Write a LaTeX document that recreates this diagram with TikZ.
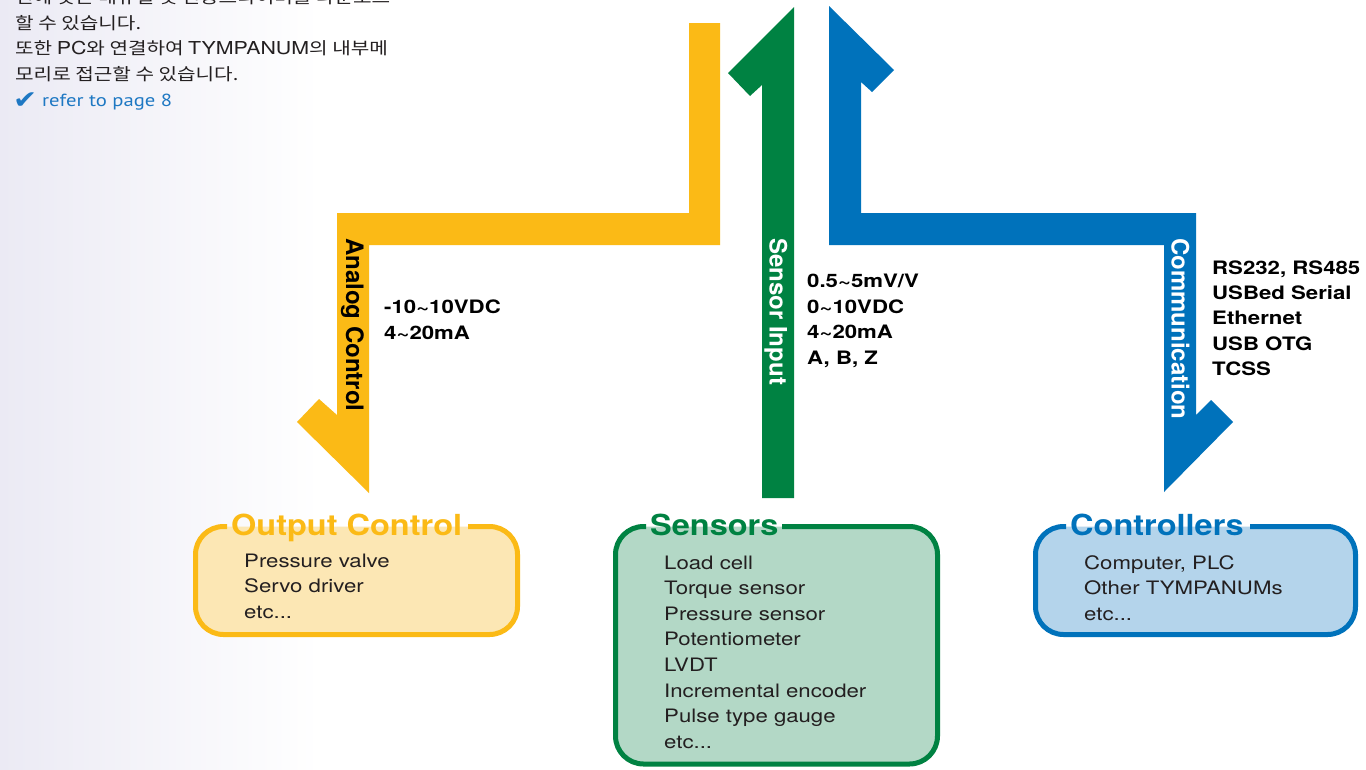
\documentclass[tikz,border=0pt]{standalone}
\usepackage{fontspec}
\setmainfont{TeX Gyre Heros}[FakeStretch=1.2]
\newfontfamily\titlefont{TeX Gyre Heros}[FakeStretch=1.12]
\newfontfamily\rotfont{TeX Gyre Heros}
\newfontfamily\kr{Noto Sans CJK KR}[FakeStretch=1.2]
\newfontfamily\latn{TeX Gyre Heros}[FakeStretch=1.2]
\newfontfamily\myr{PT Sans}[FakeStretch=1.18]
\newfontfamily\symfont{DejaVu Sans}[FakeStretch=1.15]
\newcommand\etcdots{etc...}
\definecolor{ycol}{RGB}{251,186,22}
\definecolor{gcol}{RGB}{0,130,66}
\definecolor{bcol}{RGB}{0,114,187}
\definecolor{yfill}{RGB}{252,231,180}
\definecolor{gfill}{RGB}{179,216,198}
\definecolor{bfill}{RGB}{180,212,235}
\definecolor{txt}{RGB}{35,31,32}
\definecolor{bgl}{RGB}{235,234,244}
\definecolor{refblue}{RGB}{30,120,195}
\begin{document}
\begin{tikzpicture}[x=1pt,y=-1pt,
  item/.style={anchor=base west, inner sep=0pt, text=txt, font=\fontsize{18.5}{22}\selectfont},
  lab/.style={anchor=base west, inner sep=0pt, text=black, font=\fontsize{18.5}{22}\selectfont\bfseries},
  ttl/.style={anchor=base west, inner sep=0pt, font=\titlefont\fontsize{29}{32}\selectfont\bfseries},
  rot/.style={anchor=base west, inner sep=0pt, rotate=-90, font=\rotfont\fontsize{24}{26}\selectfont\bfseries},
  kor/.style={anchor=base west, inner sep=0pt, text=txt, font=\kr\fontsize{16.8}{20}\selectfont},
  boxline/.style={line width=5pt, rounded corners=28pt},
  boxfill/.style={rounded corners=28pt}
]
\useasboundingbox (0,0) rectangle (1366,769);
\clip (0,0) rectangle (1366,769);
% background
\fill[white] (0,0) rectangle (1366,769);
\shade[left color=bgl, right color=white] (0,0) rectangle (320,769);

% top-left text
\node[kor] (k1) at (15,3) {전에 맞는 매뉴얼 및 전용드라이버를 다운로드};
\node[kor] (k2) at (15,29) {할 수 있습니다.};
\node[kor] (k3) at (15,54.5) {또한 {\latn\fontsize{17.8}{20}\selectfont PC}와 연결하여 {\latn\fontsize{17.8}{20}\selectfont TYMPANUM}의 내부메};
\node[kor] (k4) at (15,80.2) {모리로 접근할 수 있습니다.};
\node[anchor=base west, inner sep=0pt, text=refblue, font=\symfont\fontsize{25}{26}\selectfont] (chk) at (13,108.5) {✔};
\node[anchor=base west, inner sep=0pt, text=refblue, font=\myr\fontsize{17.5}{20}\selectfont] (ref) at (42,106) {refer to page 8};

% arrows
\fill[ycol] (689,23) -- (720,23) -- (720,245) -- (369,245) -- (369,493) -- (297,422) -- (319,399) -- (337,415) -- (337,213) -- (689,213) -- cycle;
\fill[gcol] (762,498) -- (762,85) -- (750,96) -- (728,73) -- (794,7) -- (794,498) -- cycle;
\fill[bcol] (829,245) -- (829,6) -- (894,70) -- (872,92) -- (861,82) -- (861,213) -- (1196,213) -- (1196,415) -- (1211,400) -- (1233,422) -- (1164,492) -- (1164,245) -- cycle;

% rotated labels
\node[rot, text=black] (ac) at (346,238) {Analog Control};
\node[rot, text=white] (si) at (769.5,238) {Sensor Input};
\node[rot, text=white] (cm) at (1171.5,238) {Communication};

% side labels
\foreach \t [count=\i from 0] in {-10\textasciitilde 10VDC, 4\textasciitilde 20mA}
  \node[lab] (a\i) at (384,{313.3+26*\i}) {\t};
\foreach \t [count=\i from 0] in {0.5\textasciitilde 5mV/V, 0\textasciitilde 10VDC, 4\textasciitilde 20mA, {A, B, Z}}
  \node[lab] (s\i) at (807,{287.5+25.7*\i}) {\t};
\foreach \t [count=\i from 0] in {{RS232, RS485}, USBed Serial, Ethernet, USB OTG, TCSS}
  \node[lab] (c\i) at (1212,{274.3+25.3*\i}) {\t};

% boxes
\fill[yfill, boxfill] (195.5,526.5) rectangle (517.5,634.5);
\draw[ycol, boxline] (468,526.5) -- (517.5,526.5) -- (517.5,634.5) -- (195.5,634.5) -- (195.5,526.5) -- (227,526.5);
\fill[gfill, boxfill] (615.5,526.5) rectangle (937.5,764);
\draw[gcol, boxline] (782,526.5) -- (937.5,526.5) -- (937.5,764) -- (615.5,764) -- (615.5,526.5) -- (646,526.5);
\fill[bfill, boxfill] (1035.5,526.5) rectangle (1355.5,634.5);
\draw[bcol, boxline] (1250,526.5) -- (1355.5,526.5) -- (1355.5,634.5) -- (1035.5,634.5) -- (1035.5,526.5) -- (1066,526.5);

% titles
\node[ttl, text=ycol] (to) at (231,535) {Output Control};
\node[ttl, text=gcol] (ts) at (650,535) {Sensors};
\node[ttl, text=bcol] (tc) at (1070,535) {Controllers};

% items
\foreach \t [count=\i from 0] in {Pressure valve, Servo driver, \etcdots}
  \node[item] (o\i) at (244,{567+25.8*\i}) {\t};
\foreach \t [count=\i from 0] in {Load cell, Torque sensor, Pressure sensor, Potentiometer, LVDT, Incremental encoder, Pulse type gauge, \etcdots}
  \node[item] (n\i) at (664,{569+25.6*\i}) {\t};
\foreach \t [count=\i from 0] in {{Computer, PLC}, Other TYMPANUMs, \etcdots}
  \node[item] (r\i) at (1084,{569+25.8*\i}) {\t};
\end{tikzpicture}
\end{document}
